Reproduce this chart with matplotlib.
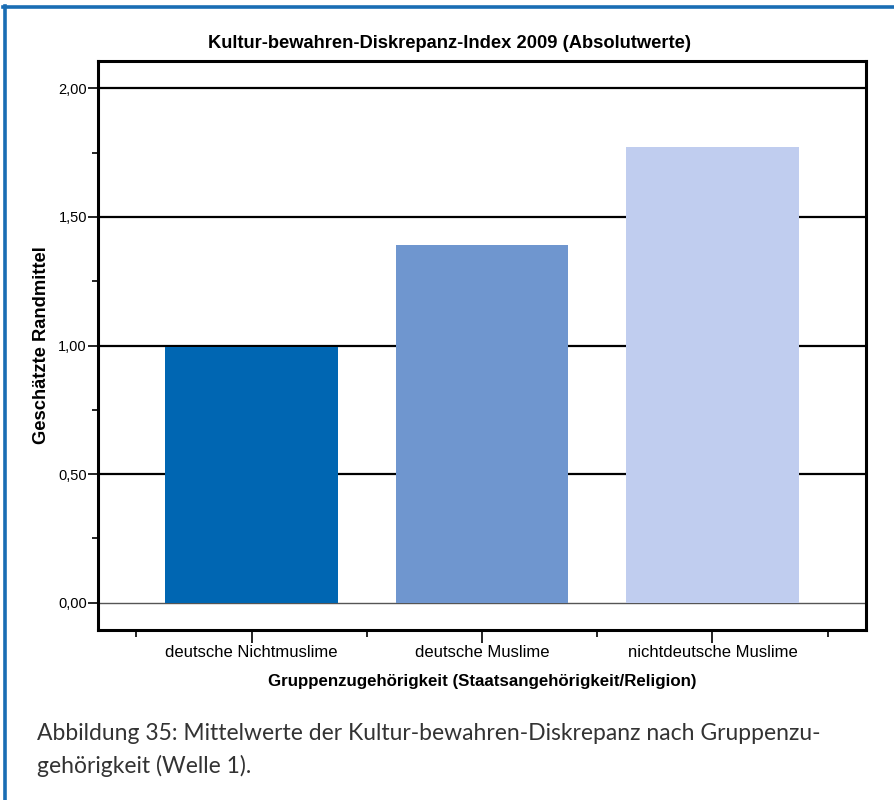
import numpy as np
import matplotlib.pyplot as plt
from matplotlib.lines import Line2D
from matplotlib.ticker import FixedLocator, FuncFormatter

# Data
groups = ['deutsche Nichtmuslime', 'deutsche Muslime', 'nichtdeutsche Muslime']
means = [0.995, 1.392, 1.773]
bar_colors = ['#0066b2', '#6f96cf', '#c0cdef']
y_ticks = [0.0, 0.5, 1.0, 1.5, 2.0]

plt.rcParams['font.family'] = ['Liberation Sans', 'DejaVu Sans']

fig = plt.figure(figsize=(8.94, 8.0), dpi=100)

# Blue frame of the figure box (top and left edges only)
fig.add_artist(Line2D([3 / 894, 1.0], [1 - 7 / 800, 1 - 7 / 800], color='#1a6db4', lw=2.6))
fig.add_artist(Line2D([5 / 894, 5 / 894], [0.0, 1 - 6 / 800], color='#1a6db4', lw=2.6))

ax = fig.add_axes([98 / 894, 170 / 800, 768 / 894, 569 / 800])

x = np.arange(len(groups))
ax.bar(x, means, width=0.75, color=bar_colors, zorder=3)

# Horizontal grid lines at the major ticks
for t in y_ticks:
    if t == 0:
        ax.axhline(t, color='#555555', lw=1.0, zorder=1)
    else:
        ax.axhline(t, color='black', lw=1.6, zorder=1)

ax.set_xlim(-0.666, 2.666)
ax.set_ylim(-0.106, 2.106)

ax.yaxis.set_major_locator(FixedLocator(y_ticks))
ax.yaxis.set_minor_locator(FixedLocator([0.25, 0.75, 1.25, 1.75]))
ax.yaxis.set_major_formatter(FuncFormatter(lambda v, p: f'{v:.2f}'.replace('.', ',')))
ax.tick_params(axis='y', which='major', length=7, width=1.2, labelsize=10.5, pad=1)
ax.tick_params(axis='y', which='minor', length=4, width=1.2)

ax.set_xticks(x)
ax.set_xticklabels(groups, fontsize=12)
ax.xaxis.set_minor_locator(FixedLocator([-0.5, 0.5, 1.5, 2.5]))
ax.tick_params(axis='x', which='major', length=9, width=1.2, pad=2)
ax.tick_params(axis='x', which='minor', length=5, width=1.2)

for s in ax.spines.values():
    s.set_linewidth(2.2)
    s.set_color('black')

# Title is centred on the figure, not on the axes
fig.text(449 / 894, 1 - 44 / 800, 'Kultur-bewahren-Diskrepanz-Index 2009 (Absolutwerte)',
         fontsize=13.2, fontweight='bold', ha='center', va='center')
ax.set_ylabel('Geschätzte Randmittel', fontsize=13.2, fontweight='bold')
ax.yaxis.set_label_coords(-0.0625, 0.5)
ax.set_xlabel('Gruppenzugehörigkeit (Staatsangehörigkeit/Religion)',
              fontsize=12.2, fontweight='bold', labelpad=10)

# Caption below the chart
cap_font = ['Lato', 'DejaVu Sans']
fig.text(37 / 894, 1 - 733 / 800,
         'Abbildung 35: Mittelwerte der Kultur-bewahren-Diskrepanz nach Gruppenzu-',
         fontsize=16.5, color='#333333', va='center', ha='left', family=cap_font)
fig.text(37 / 894, 1 - 766 / 800, 'gehörigkeit (Welle 1).',
         fontsize=16.5, color='#333333', va='center', ha='left', family=cap_font)

fig.savefig('out.png', dpi=100)
